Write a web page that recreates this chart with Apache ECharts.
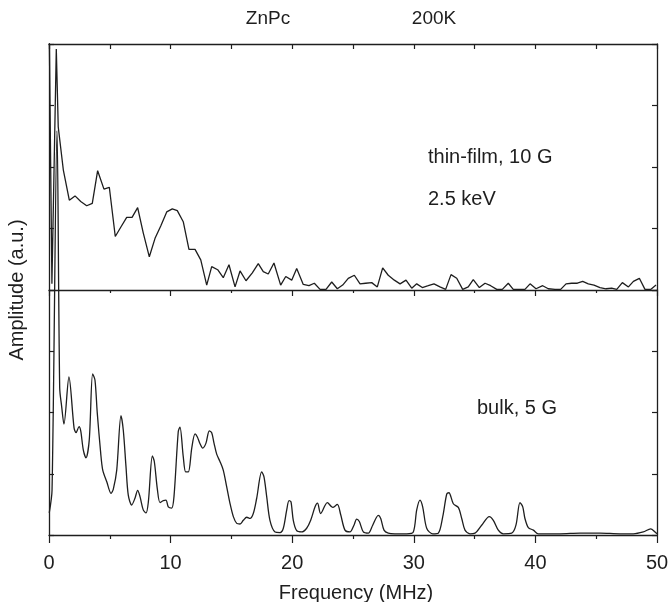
<!DOCTYPE html>
<html>
<head>
<meta charset="utf-8">
<script src="https://cdn.jsdelivr.net/npm/echarts@6/dist/echarts.min.js"></script>
<style>
  html, body { margin: 0; padding: 0; background: #fff; }
  #chart { width: 672px; height: 602px; }
</style>
</head>
<body>
<div id="chart"></div>
<script>
// thin-film, 10 G, 2.5 keV (upper panel)
var filmFreq = [
  0, 0.24, 0.6, 0.76, 1.18, 1.67, 2.14, 2.61, 3.10, 3.56,
  4.00, 4.52, 4.96, 5.45, 5.90, 6.39, 6.83, 7.29, 7.75, 8.25,
  8.72, 9.19, 9.68, 10.14, 10.55, 11.04, 11.51, 12.01, 12.48, 12.97,
  13.38, 13.87, 14.33, 14.80, 15.30, 15.71, 16.20, 16.72, 17.21, 17.62,
  18.03, 18.50, 19.05, 19.47, 19.96, 20.37, 20.91, 21.38, 21.82, 22.29,
  22.78, 23.25, 23.71, 24.15, 24.61, 25.11, 25.58, 26.04, 26.54, 27.00,
  27.44, 27.90, 28.40, 28.87, 29.36, 29.83, 30.24, 30.70, 31.19, 31.66,
  32.15, 32.62, 33.06, 33.53, 34.02, 34.48, 34.89, 35.39, 35.86, 36.32,
  36.82, 37.28, 37.77, 38.18, 38.68, 39.14, 39.56, 40.05, 40.60, 41.06,
  41.61, 42.08, 42.52, 42.98, 43.45, 43.89, 44.35, 44.82, 45.31, 45.81,
  46.27, 46.69, 47.15, 47.65, 48.06, 48.55, 49.01, 49.48, 49.92
];
var filmAmp = [
  4.6, 0.1, 3.92, 2.65, 1.95, 1.46, 1.53, 1.44, 1.37, 1.41,
  1.94, 1.64, 1.67, 0.87, 1.02, 1.18, 1.18, 1.34, 0.93, 0.54,
  0.84, 1.04, 1.27, 1.32, 1.29, 1.11, 0.66, 0.66, 0.49, 0.08,
  0.38, 0.33, 0.20, 0.41, 0.05, 0.31, 0.15, 0.28, 0.43, 0.30,
  0.26, 0.44, 0.08, 0.22, 0.16, 0.35, 0.09, 0.07, 0.11, 0.01,
  0.01, 0.13, 0.02, 0.08, 0.19, 0.24, 0.10, 0.11, 0.12, 0.05,
  0.36, 0.24, 0.16, 0.10, 0.16, 0.03, 0.10, 0.04, 0.07, 0.10,
  0.05, 0.01, 0.25, 0.19, 0.01, 0.05, 0.17, 0.04, 0.11, 0.07,
  0.01, 0.01, 0.11, 0.01, 0.01, 0.01, 0.10, 0.02, 0.07, 0.02,
  0.01, 0.01, 0.10, 0.11, 0.11, 0.14, 0.10, 0.08, 0.04, 0.02,
  0.03, 0.01, 0.12, 0.05, 0.14, 0.19, 0.01, 0.01, 0.08
];

// bulk, 5 G (lower panel)
var bulkFreq = [
  0.02, 0.25, 0.66, 0.88, 1.04, 1.23, 1.64, 2.06, 2.22, 2.47, 2.61, 2.82,
  3.04, 3.31, 3.59, 3.78, 3.97, 4.25, 4.42, 4.75, 5.10, 5.29, 5.57, 5.92,
  6.11, 6.33, 6.52, 6.80, 7.07, 7.29, 7.48, 7.75, 7.98, 8.17, 8.50, 8.66,
  8.91, 9.13, 9.40, 9.62, 9.81, 10.09, 10.28, 10.63, 10.77, 11.04, 11.24, 11.46,
  11.74, 12.01, 12.20, 12.42, 12.64, 12.91, 13.18, 13.38, 13.57, 13.79, 14.06, 14.33,
  14.61, 14.88, 15.16, 15.44, 15.71, 15.98, 16.26, 16.53, 16.80, 17.08, 17.49, 17.68,
  17.90, 18.17, 18.59, 19.00, 19.27, 19.55, 19.74, 19.90, 20.09, 20.37, 20.78, 21.19,
  21.52, 21.88, 22.08, 22.34, 22.89, 23.33, 23.71, 23.99, 24.34, 24.75, 25.08, 25.30,
  25.52, 25.85, 26.26, 26.62, 27.08, 27.28, 27.55, 27.90, 28.45, 29.42, 29.96, 30.24,
  30.51, 30.73, 31.06, 31.55, 32.01, 32.38, 32.71, 32.89, 33.25, 33.66, 33.94, 34.21,
  34.62, 35.03, 35.58, 36.21, 36.54, 36.95, 37.36, 38.05, 38.40, 38.73, 38.96, 39.14,
  39.42, 39.83, 40.24, 42.02, 43.67, 45.31, 46.96, 48.05, 48.87, 49.48, 49.84, 50.0
];
var bulkAmp = [
  0.36, 0.73, 6.6, 2.4, 2.1, 1.81, 2.58, 1.75, 1.67, 1.77, 1.70, 1.39,
  1.26, 1.55, 2.63, 2.53, 1.99, 1.34, 1.06, 0.87, 0.68, 0.75, 1.06, 1.95,
  1.71, 1.12, 0.65, 0.49, 0.60, 0.73, 0.63, 0.41, 0.36, 0.54, 1.29, 1.20,
  0.75, 0.53, 0.56, 0.57, 0.46, 0.44, 0.63, 1.69, 1.76, 1.28, 1.03, 1.03,
  1.42, 1.65, 1.60, 1.49, 1.42, 1.50, 1.70, 1.67, 1.50, 1.32, 1.20, 1.06,
  0.79, 0.52, 0.30, 0.19, 0.18, 0.24, 0.29, 0.27, 0.35, 0.60, 1.03, 0.95,
  0.63, 0.24, 0.05, 0.04, 0.11, 0.41, 0.56, 0.54, 0.24, 0.07, 0.05, 0.11,
  0.24, 0.46, 0.52, 0.35, 0.53, 0.45, 0.50, 0.33, 0.08, 0.05, 0.16, 0.26,
  0.22, 0.05, 0.03, 0.16, 0.32, 0.27, 0.08, 0.03, 0.02, 0.02, 0.05, 0.41,
  0.57, 0.46, 0.11, 0.02, 0.03, 0.30, 0.67, 0.69, 0.51, 0.45, 0.27, 0.08,
  0.02, 0.03, 0.16, 0.30, 0.24, 0.08, 0.02, 0.03, 0.16, 0.53, 0.46, 0.27,
  0.12, 0.08, 0.02, 0.02, 0.03, 0.03, 0.02, 0.02, 0.05, 0.10, 0.05, 0.02
];

var xTicks = [0, 10, 20, 30, 40, 50];

var ink = '#1e1e1e';
var fontName = '"Liberation Sans", Arial, sans-serif';

function pairs(xs, ys) {
  return xs.map(function (x, i) { return [x, ys[i]]; });
}

var chart = echarts.init(document.getElementById('chart'), null, { renderer: 'canvas' });

function xAx(grid, pos, opts) {
  return Object.assign({
    type: 'value', gridIndex: grid, position: pos,
    min: xTicks[0], max: xTicks[xTicks.length - 1], interval: xTicks[1] - xTicks[0],
    axisLine: { show: true, onZero: false, lineStyle: { color: ink, width: 1.3 } },
    axisTick: { show: true, inside: false, length: 6, lineStyle: { color: ink, width: 1.2 } },
    minorTick: { show: true, splitNumber: 2, length: 3, lineStyle: { color: ink, width: 1.2 } },
    axisLabel: { show: false },
    splitLine: { show: false }
  }, opts || {});
}
function yAx(grid, pos) {
  return {
    type: 'value', gridIndex: grid, position: pos, min: 0, max: 4, interval: 1,
    axisLine: { show: true, onZero: false, lineStyle: { color: ink, width: 1.3 } },
    axisTick: { show: true, inside: true, length: 5, lineStyle: { color: ink, width: 1.2 } },
    axisLabel: { show: false },
    splitLine: { show: false }
  };
}

var option = {
  animation: false,
  backgroundColor: '#fff',
  grid: [
    { left: 49, top: 44, width: 608, height: 246 },
    { left: 49, top: 290, width: 608, height: 245 }
  ],
  xAxis: [
    xAx(0, 'bottom'),
    xAx(0, 'top', {
      interval: 5,
      axisTick: { show: true, inside: true, length: 5, lineStyle: { color: ink, width: 1.2 } },
      minorTick: { show: false }
    }),
    xAx(1, 'bottom', {
      axisTick: { show: true, inside: false, length: 8, lineStyle: { color: ink, width: 1.2 } },
      minorTick: { show: true, splitNumber: 2, length: 4, lineStyle: { color: ink, width: 1.2 } },
      axisLabel: { show: true, margin: 18, color: ink, fontSize: 20, fontFamily: fontName }
    })
  ],
  yAxis: [yAx(0, 'left'), yAx(0, 'right'), yAx(1, 'left'), yAx(1, 'right')],
  series: [
    {
      name: 'thin-film', type: 'line', xAxisIndex: 0, yAxisIndex: 0,
      data: pairs(filmFreq, filmAmp), symbol: 'none', clip: true,
      lineStyle: { color: ink, width: 1.3 }
    },
    {
      name: 'bulk', type: 'line', xAxisIndex: 2, yAxisIndex: 2,
      data: pairs(bulkFreq, bulkAmp), symbol: 'none', smooth: 0.3, clip: false,
      lineStyle: { color: ink, width: 1.3 }
    }
  ],
  graphic: [
    { type: 'text', x: 268, y: 19, style: { text: 'ZnPc', align: 'center', verticalAlign: 'middle', font: '19px ' + fontName, fill: ink } },
    { type: 'text', x: 434, y: 19, style: { text: '200K', align: 'center', verticalAlign: 'middle', font: '19px ' + fontName, fill: ink } },
    { type: 'text', x: 428, y: 157, style: { text: 'thin-film, 10 G', align: 'left', verticalAlign: 'middle', font: '20px ' + fontName, fill: ink } },
    { type: 'text', x: 428, y: 199, style: { text: '2.5 keV', align: 'left', verticalAlign: 'middle', font: '20px ' + fontName, fill: ink } },
    { type: 'text', x: 477, y: 408, style: { text: 'bulk, 5 G', align: 'left', verticalAlign: 'middle', font: '20px ' + fontName, fill: ink } },
    { type: 'text', x: 17, y: 290, rotation: Math.PI / 2, style: { text: 'Amplitude (a.u.)', align: 'center', verticalAlign: 'middle', font: '20px ' + fontName, fill: ink } },
    { type: 'text', x: 356, y: 593, style: { text: 'Frequency (MHz)', align: 'center', verticalAlign: 'middle', font: '20px ' + fontName, fill: ink } }
  ]
};

chart.setOption(option);
</script>
</body>
</html>
